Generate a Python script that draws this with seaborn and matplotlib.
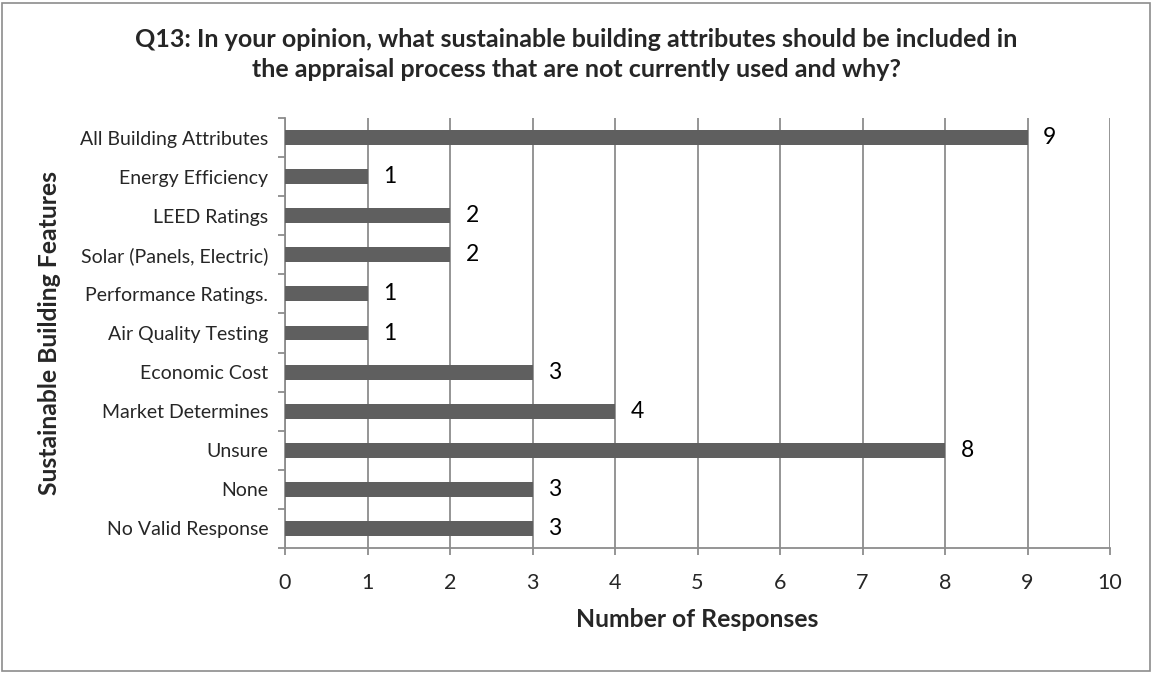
import matplotlib
matplotlib.use("Agg")
import matplotlib.pyplot as plt
import seaborn as sns
import pandas as pd
from matplotlib.patches import Rectangle

categories = ["All Building Attributes", "Energy Efficiency", "LEED Ratings",
              "Solar (Panels, Electric)", "Performance Ratings.", "Air Quality Testing",
              "Economic Cost", "Market Determines", "Unsure", "None", "No Valid Response"]
values = [9, 1, 2, 2, 1, 1, 3, 4, 8, 3, 3]
x_ticks = list(range(0, 11))

sns.set_theme(style="white")
plt.rcParams['font.family'] = ['Lato', 'DejaVu Sans']

df = pd.DataFrame({"cat": categories, "val": values})

fig = plt.figure(figsize=(11.53, 6.73), dpi=100)
ax = fig.add_axes([285/1153, 1-548/673, (1110-285)/1153, (548-118)/673])

sns.barplot(data=df, y="cat", x="val", orient="h", color="#5f5f5f", width=0.38,
            saturation=1, ax=ax, zorder=3, edgecolor="none")

ax.set_xlim(0, 10)
ax.set_ylim(len(categories)-0.5, -0.5)
ax.set_xticks(x_ticks)
ax.set_xticklabels([str(t) for t in x_ticks], fontsize=15.5)
ax.set_yticks(range(len(categories)))
ax.set_yticklabels(categories, fontsize=14)
ax.xaxis.grid(True, color="#8c8c8c", linewidth=1.3, zorder=0)
ax.set_axisbelow(True)
for s in ["top", "right"]:
    ax.spines[s].set_visible(False)
for s in ["left", "bottom"]:
    ax.spines[s].set_color("#8c8c8c")
    ax.spines[s].set_linewidth(1.3)

ax.tick_params(axis="x", which="major", length=5, color="#8c8c8c", width=1.3, direction="out", bottom=True, pad=13)
ax.tick_params(axis="y", which="major", length=0, pad=12)
ax.set_yticks([i - 0.5 for i in range(len(categories)+1)], minor=True)
ax.tick_params(axis="y", which="minor", length=5, color="#8c8c8c", width=1.3, direction="out", left=True)

for i, v in enumerate(values):
    ax.text(v + 0.19, i, str(v), va="center", ha="left", fontsize=16.5, color="black")

ax.set_xlabel("Number of Responses", fontsize=17.8, fontweight="bold", labelpad=11)
ax.set_ylabel("Sustainable Building Features", fontsize=17.8, fontweight="bold", labelpad=14)

fig.text(0.5, 1-47/673, "Q13: In your opinion, what sustainable building attributes should be included in",
         ha="center", va="baseline", fontsize=18, fontweight="bold")
fig.text(0.5, 1-77/673, "the appraisal process that are not currently used and why?",
         ha="center", va="baseline", fontsize=18, fontweight="bold")

fig.patches.append(Rectangle((2/1153, 2/673), 1148/1153, 668/673, transform=fig.transFigure,
                             fill=False, edgecolor="#8c8c8c", linewidth=1.2))

fig.savefig("out.png", dpi=100)
